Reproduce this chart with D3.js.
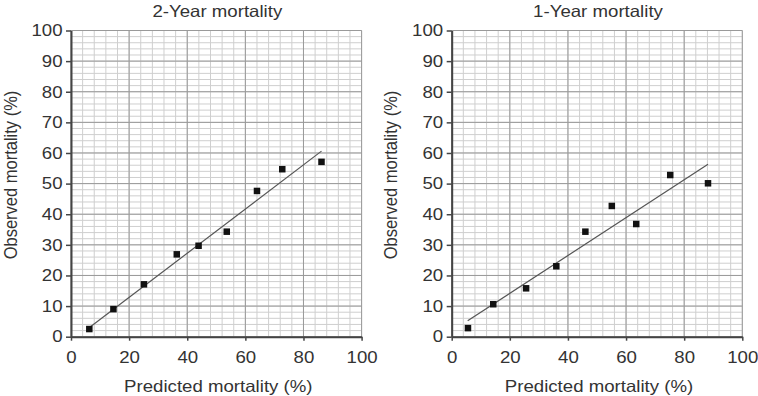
<!DOCTYPE html>
<html>
<head>
<meta charset="utf-8">
<script src="https://cdn.jsdelivr.net/npm/d3@7"></script>
<style>
  body { margin: 0; background: #fff; }
  svg { display: block; }
  text { font-family: "Liberation Sans", Arial, sans-serif; fill: #333; }
</style>
</head>
<body>
<svg id="chart" width="758" height="396"></svg>
<script>
// ---- data ----
const panelTitles = ["2-Year mortality", "1-Year mortality"];
const xTickValues = [0, 20, 40, 60, 80, 100];
const yTickValues = [0, 10, 20, 30, 40, 50, 60, 70, 80, 90, 100];

const twoYearPredicted = [6.3, 14.6, 25.1, 36.4, 43.9, 53.6, 64.0, 72.7, 86.2];
const twoYearObserved = [2.5, 9.0, 17.1, 26.9, 29.7, 34.3, 47.6, 54.7, 57.1];
const twoYearFitX = [6.8, 86.2];
const twoYearFitY = [3.3, 60.6];

const oneYearPredicted = [5.6, 14.3, 25.6, 36.0, 46.0, 55.1, 63.5, 75.2, 88.2];
const oneYearObserved = [2.8, 10.6, 15.8, 23.0, 34.3, 42.7, 36.8, 52.8, 50.1];
const oneYearFitX = [5.5, 88.2];
const oneYearFitY = [5.2, 56.3];

// the reference is a little wider than tall, so stretch text horizontally
const STRETCH = 1.13;
const FONT = 16.5;

const svg = d3.select("#chart");

function drawPanel(left, title, px, py, fx, fy) {
  const W = 290.6, H = 306.2, top = 30.5;
  const x = d3.scaleLinear().domain([0, 100]).range([0, W]);
  const y = d3.scaleLinear().domain([0, 100]).range([H, 0]);

  const g = svg.append("g").attr("transform", `translate(${left},${top})`);

  // minor grid
  g.append("g")
    .selectAll("line")
    .data(d3.range(0, 101, 4))
    .join("line")
    .attr("x1", (d) => x(d)).attr("x2", (d) => x(d))
    .attr("y1", 0).attr("y2", H)
    .attr("stroke", "#cfcfcf").attr("stroke-width", 1);
  g.append("g")
    .selectAll("line")
    .data(d3.range(0, 101, 2))
    .join("line")
    .attr("y1", (d) => y(d)).attr("y2", (d) => y(d))
    .attr("x1", 0).attr("x2", W)
    .attr("stroke", "#cfcfcf").attr("stroke-width", 1);

  // major grid
  g.append("g")
    .selectAll("line")
    .data(xTickValues)
    .join("line")
    .attr("x1", (d) => x(d)).attr("x2", (d) => x(d))
    .attr("y1", 0).attr("y2", H)
    .attr("stroke", "#9a9a9a").attr("stroke-width", 1);
  g.append("g")
    .selectAll("line")
    .data(yTickValues)
    .join("line")
    .attr("y1", (d) => y(d)).attr("y2", (d) => y(d))
    .attr("x1", 0).attr("x2", W)
    .attr("stroke", "#9a9a9a").attr("stroke-width", 1);

  // axes
  const xAxis = g.append("g")
    .attr("transform", `translate(0,${H})`)
    .call(d3.axisBottom(x).tickValues(xTickValues).tickSize(4).tickPadding(11).tickSizeOuter(0));
  const yAxis = g.append("g")
    .call(d3.axisLeft(y).tickValues(yTickValues).tickSize(5).tickPadding(3).tickSizeOuter(0));

  [xAxis, yAxis].forEach((a) => {
    a.select(".domain").attr("stroke", "#444").attr("stroke-width", 2);
    a.selectAll(".tick line").attr("stroke", "#444").attr("stroke-width", 1.5);
    a.selectAll(".tick text")
      .attr("font-family", null)
      .style("font-size", FONT + "px")
      .attr("fill", "#333");
  });
  // horizontal stretch of tick labels
  xAxis.selectAll(".tick text").attr("transform", `scale(${STRETCH},1)`);
  yAxis.selectAll(".tick text")
    .attr("x", -8.5 / STRETCH)
    .attr("transform", `scale(${STRETCH},1)`);

  // fitted line
  g.append("line")
    .attr("x1", x(fx[0])).attr("y1", y(fy[0]))
    .attr("x2", x(fx[1])).attr("y2", y(fy[1]))
    .attr("stroke", "#555").attr("stroke-width", 1.2);

  // observed points
  const S = 6.5;
  g.append("g")
    .selectAll("rect")
    .data(px.map((p, i) => ({ p, o: py[i] })))
    .join("rect")
    .attr("x", (d) => x(d.p) - S / 2)
    .attr("y", (d) => y(d.o) - S / 2)
    .attr("width", S).attr("height", S)
    .attr("fill", "#111");

  // panel title
  svg.append("text")
    .attr("transform", `translate(${left + W / 2 + 1},16.5) scale(${STRETCH},1)`)
    .attr("text-anchor", "middle")
    .style("font-size", FONT + "px")
    .text(title);

  // x title
  svg.append("text")
    .attr("transform", `translate(${left + W / 2 + 2},392) scale(${STRETCH},1)`)
    .attr("text-anchor", "middle")
    .style("font-size", FONT + "px")
    .text("Predicted mortality (%)");

  // y title
  svg.append("text")
    .attr("transform", `translate(${left - 54.5},175) scale(${STRETCH},1) rotate(-90)`)
    .attr("text-anchor", "middle")
    .style("font-size", FONT + "px")
    .text("Observed mortality (%)");
}

drawPanel(71, panelTitles[0], twoYearPredicted, twoYearObserved, twoYearFitX, twoYearFitY);
drawPanel(451.7, panelTitles[1], oneYearPredicted, oneYearObserved, oneYearFitX, oneYearFitY);
</script>
</body>
</html>
